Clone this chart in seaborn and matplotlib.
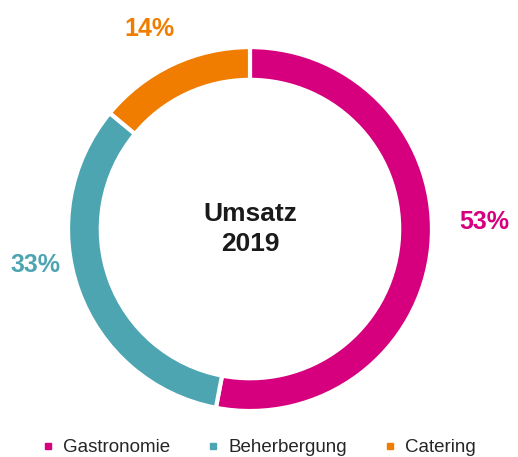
import matplotlib
matplotlib.use("Agg")
import matplotlib.pyplot as plt
from matplotlib.lines import Line2D
import seaborn as sns

categories = ["Gastronomie", "Beherbergung", "Catering"]
shares = [53, 33, 14]
labels = ["53%", "33%", "14%"]
colors = ["#D6007E", "#4EA5B2", "#F07D00"]

sns.set_theme(style="white")
plt.rcParams["font.family"] = ["Liberation Sans", "DejaVu Sans"]

fig = plt.figure(figsize=(5.18, 4.57), dpi=100)
ax = fig.add_axes([0.0961, 0.0608, 0.773, 0.876])

wedges, _ = ax.pie(
    shares, colors=colors, startangle=90, counterclock=False,
    radius=1.0, wedgeprops=dict(width=0.18, edgecolor="white", linewidth=3),
)
ax.set_xlim(-1.1, 1.1)
ax.set_ylim(-1.1, 1.1)
ax.set_aspect("equal")
ax.axis("off")

# percentage labels outside the ring
label_pos = [(1.29, 0.04), (-1.18, -0.20), (-0.55, 1.10)]
for (x, y), txt, c in zip(label_pos, labels, colors):
    ax.text(x, y, txt, color=c, fontsize=18, fontweight="bold", ha="center", va="center")

ax.text(0, 0.0, "Umsatz\n2019", ha="center", va="center", fontsize=19,
        fontweight="bold", color="#1a1a1a", linespacing=1.35)

handles = [Line2D([0], [0], marker="s", linestyle="", markersize=5,
                  markerfacecolor=c, markeredgecolor=c) for c in colors]
fig.legend(handles, categories, loc="lower center", ncol=3, frameon=False,
           bbox_to_anchor=(0.495, -0.035), fontsize=13.5, handletextpad=0.2,
           handlelength=1.2, columnspacing=1.7, labelcolor="#262626")

fig.savefig("out.png", dpi=100)
